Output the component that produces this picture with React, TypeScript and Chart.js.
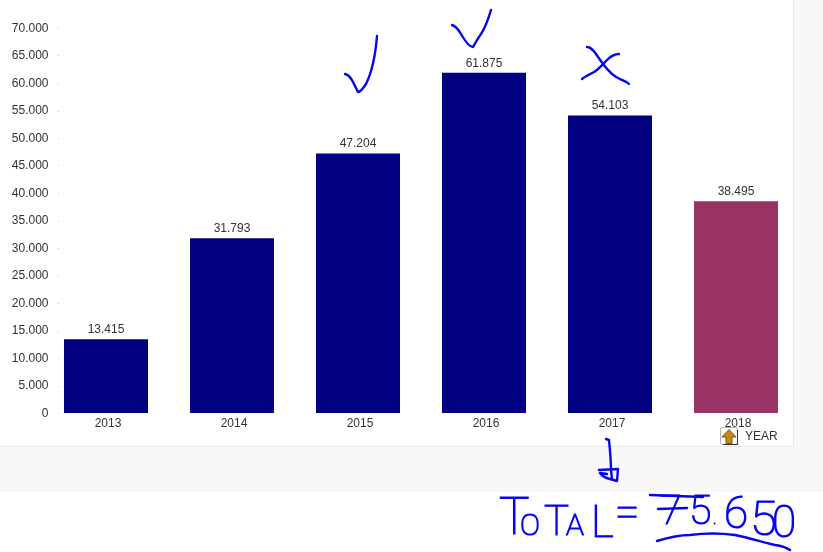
import React, { useEffect, useRef } from "react";
import { Chart, registerables } from "chart.js";

Chart.register(...registerables);

const categories = ["2013", "2014", "2015", "2016", "2017", "2018"];
const values = [13415, 31793, 47204, 61875, 54103, 38495];
const barColors = ["#000080", "#000080", "#000080", "#000080", "#000080", "#993366"];
const yMax = 70000;
const yStep = 5000;
const INK = "#0505f0";
const FONT = "'Liberation Sans', Arial, sans-serif";
const PEN = "Roboto, 'Open Sans', sans-serif";

const fmt = (v: number) => String(Math.round(v)).replace(/\B(?=(\d{3})+(?!\d))/g, ".");

const strokes = [
  "M345 74 C349 75 351 78 353 82 L358 92 C361 92 363 88 366 84 C371 74 375 60 377 36",
  "M452 25 C456 26 458 29 461 34 C465 41 469 47 473 47 C476 42 478 38 481 34 C485 28 488 20 491 10",
  "M587 47 C591 47 593 50 596 54 L603 64 C609 72 615 77 620 79 C624 81 627 82 629 84",
  "M582 79 C586 76 590 74 594 72 C599 69 603 64 607 60 C611 56 615 54 619 54",
  "M606 439 L609 440 C610 450 611 460 611 470 L612 479",
  "M599 470 L618 469 L617 481 L610 479 C606 478 602 476 600 473 L607 474",
  "M657 541 C670 537 680 535 690 535 C705 533 720 533 735 535 C750 538 765 543 775 545 C782 546 787 548 790 550",
  "M650 495 L703 497",
  "M658 509 L687 508",
];

const penWord = [
  { ch: "T", x: 499, y: 534, size: 51 },
  { ch: "O", x: 520, y: 535, size: 30 },
  { ch: "T", x: 544, y: 535, size: 42 },
  { ch: "A", x: 566, y: 535, size: 30 },
  { ch: "L", x: 591, y: 537, size: 44 },
  { ch: "=", x: 615, y: 527, size: 44 },
];
const penAmount = [
  { ch: "7", x: 660, y: 524, size: 40 },
  { ch: "5", x: 689, y: 524, size: 41 },
  { ch: ".", x: 713, y: 524, size: 16 },
  { ch: "6", x: 724, y: 528, size: 44 },
  { ch: "5", x: 750, y: 535, size: 49 },
  { ch: "0", x: 772, y: 537, size: 44 },
];

const valueLabels = {
  id: "valueLabels",
  afterDatasetsDraw(chart: any) {
    const { ctx } = chart;
    const meta = chart.getDatasetMeta(0);
    ctx.save();
    ctx.font = `12px ${FONT}`;
    ctx.fillStyle = "#333333";
    ctx.textAlign = "center";
    ctx.textBaseline = "middle";
    meta.data.forEach((bar: any, i: number) => {
      ctx.fillText(fmt(values[i]), bar.x, bar.y - 9.5);
    });
    ctx.restore();
  },
};

const yAxisMarks = {
  id: "yAxisMarks",
  afterDatasetsDraw(chart: any) {
    const { ctx } = chart;
    const y = chart.scales.y;
    ctx.save();
    ctx.font = `12px ${FONT}`;
    ctx.textAlign = "right";
    ctx.textBaseline = "middle";
    y.ticks.forEach((t: any) => {
      const py = y.getPixelForValue(t.value);
      ctx.fillStyle = "#c8c8c8";
      ctx.fillRect(58, Math.round(py), 1, 1);
      ctx.fillStyle = "#333333";
      ctx.fillText(fmt(t.value), 48.5, py + 0.5);
    });
    ctx.restore();
  },
};

function PenText({ glyphs }: { glyphs: { ch: string; x: number; y: number; size: number }[] }) {
  return (
    <text fontFamily={PEN} fontWeight={100} fill={INK} stroke={INK} strokeWidth={1.2}>
      {glyphs.map((g, i) => (
        <tspan key={i} x={g.x} y={g.y} fontSize={g.size}>
          {g.ch}
        </tspan>
      ))}
    </text>
  );
}

export default function App() {
  const ref = useRef<HTMLCanvasElement | null>(null);
  useEffect(() => {
    if (!ref.current) return;
    const chart = new Chart(ref.current, {
      type: "bar",
      data: {
        labels: categories,
        datasets: [
          {
            data: values,
            backgroundColor: barColors,
            borderWidth: 0,
            barPercentage: 2 / 3,
            categoryPercentage: 1,
          },
        ],
      },
      options: {
        responsive: false,
        animation: false,
        events: [],
        layout: { padding: { top: 28, right: 24, left: 0, bottom: 0 } },
        plugins: { legend: { display: false }, tooltip: { enabled: false } },
        scales: {
          x: {
            grid: { display: false, drawTicks: false },
            border: { display: false },
            ticks: {
              color: "#333333",
              font: { size: 12, family: FONT },
              padding: 3,
              labelOffset: 2,
              maxRotation: 0,
              autoSkip: false,
            },
            afterFit: (s: any) => {
              s.height = 139;
            },
          },
          y: {
            min: 0,
            max: yMax,
            grid: { display: false, drawTicks: false },
            border: { display: false },
            ticks: { stepSize: yStep, display: false },
            afterFit: (s: any) => {
              s.width = 43;
            },
          },
        },
      },
      plugins: [valueLabels, yAxisMarks],
    } as any);
    return () => chart.destroy();
  }, []);

  return (
    <div style={{ position: "absolute", left: 0, top: 0, width: 823, height: 552, background: "#ffffff", overflow: "hidden" }}>
      <div style={{ position: "absolute", left: 0, top: 0, width: 823, height: 492, background: "#f8f8f8" }} />
      <div
        style={{
          position: "absolute",
          left: 0,
          top: 0,
          width: 793,
          height: 446,
          background: "#ffffff",
          borderRight: "1px solid #e8e8e8",
          borderBottom: "1px solid #e8e8e8",
        }}
      />
      <canvas ref={ref} width={823} height={552} style={{ position: "absolute", left: 0, top: 0, display: "block" }} />
      <svg width={823} height={552} style={{ position: "absolute", left: 0, top: 0 }}>
        {/* sort icon */}
        <rect x={720.5} y={427.5} width={17} height={17} rx={2} fill="#fbfbfb" stroke="#b0b0b0" />
        <path d="M737.5 430 V444.5 H723" fill="none" stroke="#333" strokeWidth={1} />
        <path d="M729 429.5 L736 437 H732 V443.5 H726 V437 H722 Z" fill="#c8851a" stroke="#6a4208" strokeWidth={0.8} />
        <text x={745} y={439.5} fontFamily={FONT} fontSize={12} fill="#333333">YEAR</text>
        {/* pen marks */}
        {strokes.map((d, i) => (
          <path key={i} d={d} fill="none" stroke={INK} strokeWidth={2.4} strokeLinecap="round" strokeLinejoin="round" />
        ))}
        <PenText glyphs={penWord} />
        <PenText glyphs={penAmount} />
      </svg>
    </div>
  );
}
